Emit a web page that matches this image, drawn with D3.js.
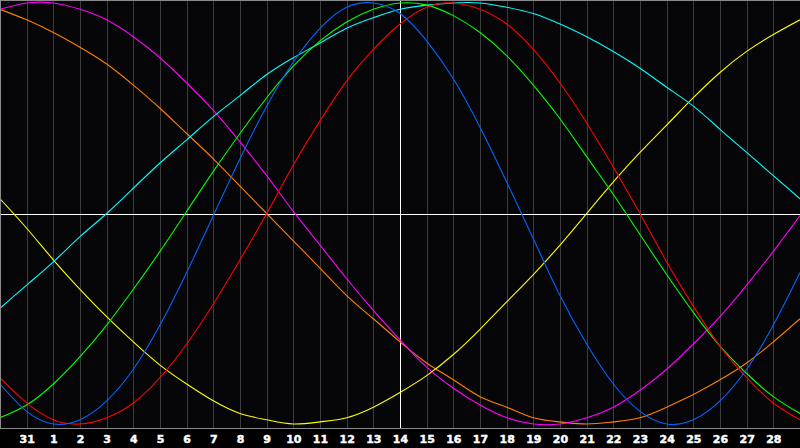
<!DOCTYPE html>
<html>
<head>
<meta charset="utf-8">
<script src="https://cdn.jsdelivr.net/npm/d3@7/dist/d3.min.js"></script>
<style>
  html, body { margin: 0; padding: 0; background: #000; }
  svg { display: block; }
</style>
</head>
<body>
<svg id="chart" width="800" height="448"></svg>
<script>
// Day labels for grid positions 1..29 (position 0 = Jan 30, position 30 = Mar 1)
const dayLabels = ["31","1","2","3","4","5","6","7","8","9","10","11","12","13","14","15","16","17","18","19","20","21","22","23","24","25","26","27","28"];

// Series values (percent, -100..100) at positions 0..30
const blueValues    = [-81,-94,-100,-98,-89,-74,-53,-28,-1,26,51,72,88,98,100,95,82,64,41,15,-12,-39,-62,-81,-94,-100,-98,-89,-74,-53,-28];
const redValues     = [-78,-90,-98,-100,-97,-90,-78,-62,-43,-22,0,23,44,63,78,90,98,100,97,90,78,62,43,22,0,-23,-44,-63,-78,-90,-98];
const greenValues   = [-97,-91,-81,-68,-53,-36,-18,1,20,38,55,70,82,91,97,100,99,94,86,75,61,45,27,9,-10,-29,-47,-63,-76,-87,-95];
const magentaValues = [97,100,100,97,92,84,74,62,49,34,18,1,-15,-31,-46,-60,-73,-83,-91,-97,-100,-100,-97,-92,-84,-74,-62,-49,-34,-18,-1];
const yellowValues  = [7,-7,-22,-36,-49,-61,-72,-81,-89,-95,-98,-100,-99,-97,-92,-85,-77,-67,-55,-42,-29,-15,0,15,29,42,55,67,77,85,92];
const orangeValues  = [97,92,86,79,71,61,50,38,26,13,0,-13,-26,-39,-50,-61,-71,-79,-87,-92,-97,-99,-100,-99,-97,-92,-86,-79,-71,-61,-50];
const cyanValues    = [-45,-34,-23,-11,0,12,24,35,46,56,66,74,81,88,93,97,99,100,100,98,95,90,84,77,69,60,51,40,29,18,7];

const seriesList = [
  { name: "orange",  values: orangeValues,  color: "#ff8000" },
  { name: "magenta", values: magentaValues, color: "#ff00ff" },
  { name: "yellow",  values: yellowValues,  color: "#ffff00" },
  { name: "cyan",    values: cyanValues,    color: "#00ffff" },
  { name: "green",   values: greenValues,   color: "#00ff00" },
  { name: "red",     values: redValues,     color: "#ff0000" },
  { name: "blue",    values: blueValues,    color: "#0066ff" }
];

const W = 800, H = 448, plotBottom = 428;
const svg = d3.select("#chart");

const x = d3.scaleLinear().domain([0, 30]).range([0, W]);
const y = d3.scaleLinear().domain([-100, 100]).range([424, 3]);

// background
svg.append("rect").attr("x", 0).attr("y", 0).attr("width", W).attr("height", H).attr("fill", "#000000");
svg.append("rect").attr("x", 0).attr("y", 0).attr("width", W).attr("height", plotBottom).attr("fill", "#060608");

// vertical grid lines via axis
const gridAxis = d3.axisBottom(x)
  .tickValues(d3.range(1, 30))
  .tickSize(-plotBottom)
  .tickFormat("");
const gridG = svg.append("g").attr("transform", `translate(0,${plotBottom})`).call(gridAxis);
gridG.select(".domain").remove();
gridG.selectAll(".tick line")
  .attr("stroke", "#3c3c3c")
  .attr("stroke-width", 1)
  .attr("shape-rendering", "crispEdges");

// center lines
svg.append("line")
  .attr("x1", 0).attr("x2", W)
  .attr("y1", Math.round(y(0)) + 0.5).attr("y2", Math.round(y(0)) + 0.5)
  .attr("stroke", "#ffffff").attr("stroke-width", 1).attr("shape-rendering", "crispEdges");
svg.append("line")
  .attr("x1", Math.round(x(15)) + 0.5).attr("x2", Math.round(x(15)) + 0.5)
  .attr("y1", 0).attr("y2", plotBottom)
  .attr("stroke", "#ffffff").attr("stroke-width", 1).attr("shape-rendering", "crispEdges");

// clip
svg.append("clipPath").attr("id", "plotclip")
  .append("rect").attr("x", 0).attr("y", 0).attr("width", W).attr("height", plotBottom);

const line = d3.line()
  .x((d, i) => x(i))
  .y(d => y(d))
  .curve(d3.curveNatural);

svg.append("g").attr("clip-path", "url(#plotclip)")
  .selectAll("path.series")
  .data(seriesList)
  .join("path")
  .attr("class", "series")
  .attr("fill", "none")
  .attr("stroke", d => d.color)
  .attr("stroke-width", 1.1)
  .attr("d", d => line(d.values));

// borders
svg.append("line").attr("x1", 0).attr("x2", W).attr("y1", 0.5).attr("y2", 0.5)
  .attr("stroke", "#8a8a8a").attr("shape-rendering", "crispEdges");
svg.append("line").attr("x1", 0.5).attr("x2", 0.5).attr("y1", 0).attr("y2", plotBottom)
  .attr("stroke", "#8a8a8a").attr("shape-rendering", "crispEdges");
svg.append("line").attr("x1", 0).attr("x2", W).attr("y1", plotBottom + 0.5).attr("y2", plotBottom + 0.5)
  .attr("stroke", "#8a8a8a").attr("stroke-width", 1).attr("shape-rendering", "crispEdges");

// day labels via axis
const labelAxis = d3.axisBottom(x)
  .tickValues(d3.range(1, 30))
  .tickSize(0)
  .tickPadding(0)
  .tickFormat(i => dayLabels[i - 1]);
const labelG = svg.append("g").attr("transform", `translate(0,${plotBottom})`).call(labelAxis);
labelG.select(".domain").remove();
labelG.selectAll(".tick text")
  .attr("y", 15)
  .attr("dy", 0)
  .attr("fill", "#ffffff")
  .attr("stroke", "#ffffff")
  .attr("stroke-width", 0.45)
  .style("font-family", "'DejaVu Sans', sans-serif")
  .style("font-size", "11px")
  .style("font-weight", "bold");
</script>
</body>
</html>
